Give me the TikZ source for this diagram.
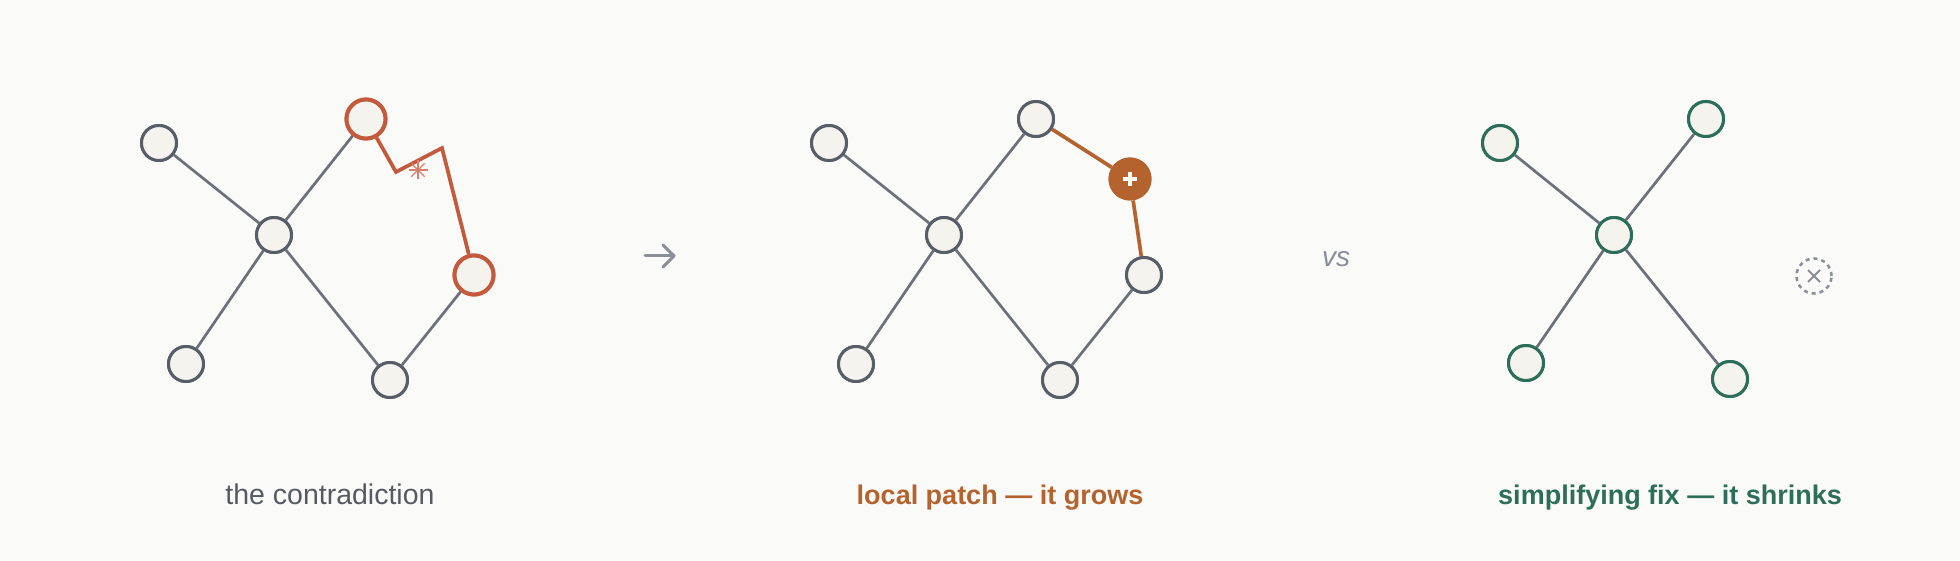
\documentclass[tikz,border=0pt]{standalone}
\usepackage{fontspec}
\setmainfont{Liberation Sans}
\usetikzlibrary{calc}
\definecolor{bgc}{HTML}{FAFAF8}
\definecolor{fillc}{HTML}{F4F3EE}
\definecolor{nodegray}{HTML}{585E68}
\definecolor{edgegray}{HTML}{6C7078}
\definecolor{redc}{HTML}{C45A3D}
\definecolor{starc}{HTML}{D4826E}
\definecolor{orangec}{HTML}{B5632E}
\definecolor{greenc}{HTML}{2D6E5B}
\definecolor{labgray}{HTML}{555A63}
\definecolor{softgray}{HTML}{8A8E99}
\tikzset{
  gnode/.style={circle, draw=nodegray, fill=fillc, line width=3pt, minimum size=35pt, inner sep=0pt},
  rnode/.style={circle, draw=redc, fill=fillc, line width=4pt, minimum size=39pt, inner sep=0pt},
  grnode/.style={circle, draw=greenc, fill=fillc, line width=3pt, minimum size=35pt, inner sep=0pt},
  pnode/.style={circle, fill=orangec, minimum size=43pt, inner sep=0pt},
  ghost/.style={circle, draw=softgray, dash pattern=on 4pt off 4pt, line width=2.5pt, minimum size=35pt, inner sep=0pt},
  edge/.style={draw=edgegray, line width=2.7pt},
  redge/.style={draw=redc, line width=3.7pt, line join=miter},
  oedge/.style={draw=orangec, line width=3.7pt},
  lab/.style={anchor=base, inner sep=0pt},
}
\begin{document}
\begin{tikzpicture}[x=1pt,y=-1pt]
\fill[bgc] (0,0) rectangle (1960,561);
\useasboundingbox (0,0) rectangle (1960,561);

% ---------- panel 1 ----------
\node[gnode] (a1) at (159,143) {};
\node[gnode] (b1) at (274,235) {};
\node[rnode] (c1) at (366,119) {};
\node[rnode] (d1) at (474,275) {};
\node[gnode] (e1) at (186,364) {};
\node[gnode] (f1) at (390,380) {};
\coordinate (k1) at (396,172);
\coordinate (k2) at (442,148);
\draw[edge] (a1) -- (b1);
\draw[edge] (b1) -- (c1);
\draw[edge] (b1) -- (e1);
\draw[edge] (b1) -- (f1);
\draw[edge] (f1) -- (d1);
\draw[redge] (c1) -- (k1) -- (k2) -- (d1);
\node[gnode] at (a1) {};
\node[gnode] at (b1) {};
\node[rnode] at (c1) {};
\node[rnode] at (d1) {};
\node[gnode] at (e1) {};
\node[gnode] at (f1) {};
\coordinate (st) at (418,170);
\foreach \ang in {0,45,90,135} {
  \draw[starc, line width=1.4pt] ($(st)+(\ang:9.5)$) -- ($(st)+(\ang+180:9.5)$);
}
\node[lab, text=labgray, font=\fontsize{28.5}{30}\selectfont] (l1) at (330,504) {the contradiction};

% arrow
\coordinate (ar0) at (645,256);
\coordinate (ar1) at (674,256);
\draw[softgray, line width=3pt, line cap=round, line join=round] (ar0) -- (ar1);
\draw[softgray, line width=3pt, line cap=round, line join=round] (663,245) -- (ar1) -- (663,267);

% ---------- panel 2 ----------
\node[gnode] (a2) at (829,143) {};
\node[gnode] (b2) at (944,235) {};
\node[gnode] (c2) at (1036,119) {};
\node[gnode] (d2) at (1144,275) {};
\node[gnode] (e2) at (856,364) {};
\node[gnode] (f2) at (1060,380) {};
\node[pnode] (p2) at (1130,179) {};
\draw[edge] (a2) -- (b2);
\draw[edge] (b2) -- (c2);
\draw[edge] (b2) -- (e2);
\draw[edge] (b2) -- (f2);
\draw[edge] (f2) -- (d2);
\draw[oedge] (c2) -- (p2);
\draw[oedge] (p2) -- (d2);
\node[gnode] at (a2) {};
\node[gnode] at (b2) {};
\node[gnode] at (c2) {};
\node[gnode] at (d2) {};
\node[gnode] at (e2) {};
\node[gnode] at (f2) {};
\node[pnode] at (p2) {};
\draw[white, line width=3.5pt] ($(p2)+(-7,0)$) -- ($(p2)+(7,0)$);
\draw[white, line width=3.5pt] ($(p2)+(0,-7)$) -- ($(p2)+(0,7)$);
\node[lab, text=orangec, font=\bfseries\fontsize{27}{30}\selectfont] (l2) at (1000,504) {local patch — it grows};

% vs
\node[text=softgray, font=\itshape\fontsize{28}{30}\selectfont, inner sep=0pt] (vs) at (1336,259) {vs};

% ---------- panel 3 ----------
\node[grnode] (a3) at (1500,143) {};
\node[grnode] (b3) at (1614,235) {};
\node[grnode] (c3) at (1706,119) {};
\node[grnode] (e3) at (1526,363) {};
\node[grnode] (f3) at (1730,379) {};
\node[ghost] (d3) at (1814,276) {};
\draw[edge] (a3) -- (b3);
\draw[edge] (b3) -- (c3);
\draw[edge] (b3) -- (e3);
\draw[edge] (b3) -- (f3);
\node[grnode] at (a3) {};
\node[grnode] at (b3) {};
\node[grnode] at (c3) {};
\node[grnode] at (e3) {};
\node[grnode] at (f3) {};
\draw[softgray, line width=2pt] ($(d3)+(-6,-6)$) -- ($(d3)+(6,6)$);
\draw[softgray, line width=2pt] ($(d3)+(-6,6)$) -- ($(d3)+(6,-6)$);
\node[lab, text=greenc, font=\bfseries\fontsize{27}{30}\selectfont] (l3) at (1670,504) {simplifying fix — it shrinks};
\end{tikzpicture}
\end{document}
